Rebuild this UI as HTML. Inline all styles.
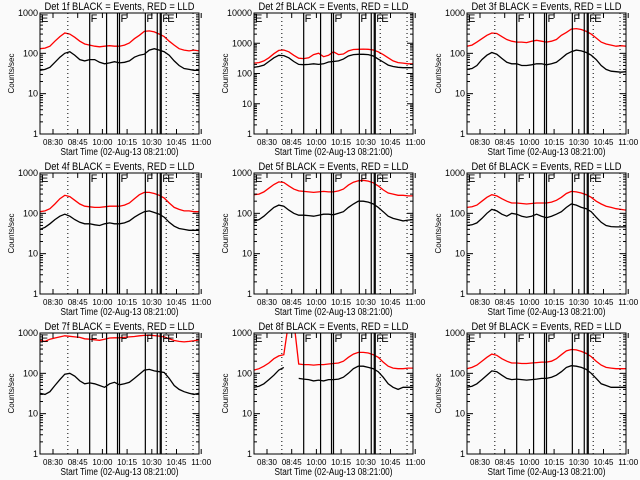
<!DOCTYPE html>
<html><head><meta charset="utf-8"><style>
html,body{margin:0;padding:0;background:#fafafa;}
svg{display:block;font-family:"Liberation Sans",sans-serif;}
</style></head><body>
<svg id="chart" width="640" height="480" viewBox="0 0 640 480"></svg>
<script>
const panelNames = ["1f","2f","3f","4f","5f","6f","7f","8f","9f"];
const panelYMax = [1000,10000,1000,1000,1000,1000,1000,1000,1000];
const xTickLabels = ["08:30","08:45","10:00","10:15","10:30","10:45","11:00"];
const solidLineMinutes = [50,67,78,80,106,118,121,122];
const dottedLineMinutes = [28,127,154];
const flagLabels = ["E","F","F","F","F","E"];
const flagMinutes = [1,51,81,107,123,128];
const sampleStepMin = 5;
const black1 = [38,40,45,60,80,100,110,90,70,65,70,70,60,55,58,62,58,60,65,80,90,95,120,130,120,110,90,65,50,42,40,38,38];
const red1 = [130,135,150,200,260,320,300,250,200,170,160,150,145,150,155,150,150,160,180,230,280,350,360,340,300,260,200,160,130,120,115,120,115];
const black2 = [160,170,190,250,330,400,390,330,250,200,195,200,210,200,210,240,250,260,300,380,420,430,430,420,380,300,240,190,170,160,155,155,155];
const red2 = [220,230,260,330,450,580,600,520,400,320,310,330,420,470,360,400,520,420,440,560,620,630,640,630,600,520,420,330,260,230,220,210,210];
const black3 = [40,42,50,70,90,105,95,75,60,55,55,50,50,52,55,55,52,55,60,75,95,110,120,115,105,90,70,50,40,36,35,34,35];
const red3 = [150,160,190,230,280,320,310,260,220,200,190,190,185,200,210,200,190,200,220,280,330,400,410,390,350,300,240,190,170,160,150,155,150];
const black4 = [40,45,55,70,85,95,85,70,60,55,55,52,50,55,58,55,55,58,65,80,95,110,115,105,95,80,60,48,42,40,38,38,38];
const red4 = [110,115,130,170,230,280,260,210,170,150,145,140,140,145,150,150,150,160,180,230,290,330,330,310,280,240,180,140,125,115,115,110,110];
const black5 = [65,70,85,110,140,160,150,120,100,90,90,88,85,90,95,95,92,100,110,140,170,200,200,190,170,140,110,85,75,70,65,68,70];
const red5 = [290,300,340,420,520,600,580,480,400,360,350,340,330,340,350,340,340,360,400,500,590,640,660,630,570,480,380,320,300,280,280,270,270];
const black6 = [50,52,58,75,100,125,115,95,85,100,95,85,80,85,95,85,78,85,95,110,140,170,160,140,130,110,80,60,50,47,46,46,46];
const red6 = [140,145,160,200,250,290,270,230,200,180,180,175,170,175,180,180,180,190,210,250,310,350,340,320,290,250,200,170,150,140,130,125,120];
const black7 = [32,30,35,50,70,95,100,85,65,55,58,55,50,45,55,60,52,55,60,75,95,120,125,115,110,105,75,50,40,35,32,30,32];
const red7 = [650,620,700,750,800,850,830,800,780,720,700,680,660,700,750,760,760,780,800,820,850,870,880,860,840,800,720,650,620,600,620,640,680];
const black8 = [45,48,55,70,90,120,140,null,null,75,72,70,65,68,65,70,70,72,80,100,130,150,150,140,130,110,80,55,45,40,45,45,45];
const red8 = [120,130,150,180,230,270,290,2000,2000,170,165,165,160,165,165,170,175,180,200,250,300,330,330,320,290,250,190,150,135,130,130,135,135];
const black9 = [45,48,55,70,90,115,110,90,75,70,72,70,68,70,72,75,75,80,90,110,140,155,150,140,125,100,75,55,50,45,45,45,45];
const red9 = [130,140,160,200,250,300,280,230,200,180,180,175,175,180,185,190,190,200,230,290,360,390,380,350,310,260,200,160,140,135,130,130,130];
const blackSeries = [black1,black2,black3,black4,black5,black6,black7,black8,black9];
const redSeries = [red1,red2,red3,red4,red5,red6,red7,red8,red9];

const NS = "http://www.w3.org/2000/svg";
const svg = document.getElementById("chart");
const colLeft = [40,254,467], rowTop = [13,173,333];
const PW = 159, PH = 121;
function mk(tag, attrs, parent){const e=document.createElementNS(NS,tag);for(const k in attrs)e.setAttribute(k,attrs[k]);parent.appendChild(e);return e;}

for(let p=0;p<9;p++){
  const L=colLeft[p%3], T=rowTop[Math.floor(p/3)], B=T+PH;
  const ymax=panelYMax[p], dec=Math.log10(ymax);
  const xs=m=>L+m*PW/160;
  const ys=v=>B-Math.log10(v)/dec*PH;
  const g=mk("g",{},svg);
  
  
  const cid="clip"+p;
  const cp=mk("clipPath",{id:cid},g); mk("rect",{x:L,y:T,width:PW,height:PH},cp);
  [[redSeries[p],"#ff0000","red-lld-series"],[blackSeries[p],"#000","black-events-series"]].forEach(([arr,col,nm])=>{
    let d="",pen=false;
    arr.forEach((v,i)=>{ if(v==null){pen=false;return;} d+=(pen?"L":"M")+xs(i*sampleStepMin).toFixed(1)+","+ys(v).toFixed(1); pen=true;});
    const path=mk("path",{d:d,fill:"none",stroke:col,"stroke-width":1.3,"clip-path":"url(#"+cid+")"},g);
    
    
  });
  solidLineMinutes.forEach(m=>{
    const l=mk("line",{x1:xs(m),x2:xs(m),y1:T,y2:B,stroke:"#000","stroke-width":1.2},g);
    
    
  });
  dottedLineMinutes.forEach(m=>{
    const l=mk("line",{x1:xs(m),x2:xs(m),y1:T,y2:B,stroke:"#000","stroke-width":1,"stroke-dasharray":"1,3"},g);
    
    
  });
  flagLabels.forEach((s,i)=>{
    const t=mk("text",{x:xs(flagMinutes[i]),y:T+9,"font-size":11,fill:"#000"},g); t.textContent=s;
    
    
  });
  const fr=mk("rect",{x:L,y:T,width:PW,height:PH,fill:"none",stroke:"#000","stroke-width":1},g);
  
  
  for(let k=0;k<=dec;k++){
    const y=ys(Math.pow(10,k));
    mk("line",{x1:L,x2:L+6,y1:y,y2:y,stroke:"#000"},g);
    mk("line",{x1:L+PW-6,x2:L+PW,y1:y,y2:y,stroke:"#000"},g);
    if(k<dec){for(let j=2;j<10;j++){const yy=ys(j*Math.pow(10,k));mk("line",{x1:L,x2:L+3,y1:yy,y2:yy,stroke:"#000"},g);mk("line",{x1:L+PW-3,x2:L+PW,y1:yy,y2:yy,stroke:"#000"},g);}}
    const t=mk("text",{x:L-2,y:y+3,"font-size":9,"text-anchor":"end"},g); t.textContent=String(Math.pow(10,k));
    
    
  }
  xTickLabels.forEach((s,i)=>{
    const x=L+13+i*24.7;
    mk("line",{x1:x,x2:x,y1:B,y2:B-5,stroke:"#000"},g);
    mk("line",{x1:x,x2:x,y1:T,y2:T+5,stroke:"#000"},g);
    const t=mk("text",{x:x,y:B+11,"font-size":8.5,"text-anchor":"middle",textLength:20,lengthAdjust:"spacingAndGlyphs"},g); t.textContent=s;
    
    
  });
  const tt=mk("text",{x:L+PW/2,y:T-3,"font-size":11,"text-anchor":"middle",textLength:150,lengthAdjust:"spacingAndGlyphs"},g);
  tt.textContent="Det "+panelNames[p]+" BLACK = Events, RED = LLD";
  
  
  const xt=mk("text",{x:L+PW/2,y:B+21,"font-size":10,"text-anchor":"middle",textLength:118,lengthAdjust:"spacingAndGlyphs"},g);
  xt.textContent="Start Time (02-Aug-13 08:21:00)";
  
  
  const yl=mk("text",{x:0,y:0,"font-size":8,"text-anchor":"middle",transform:"translate("+(L-26)+","+(T+PH/2)+") rotate(-90)"},g);
  yl.textContent="Counts/sec";
  
  
}
</script>
</body></html>
